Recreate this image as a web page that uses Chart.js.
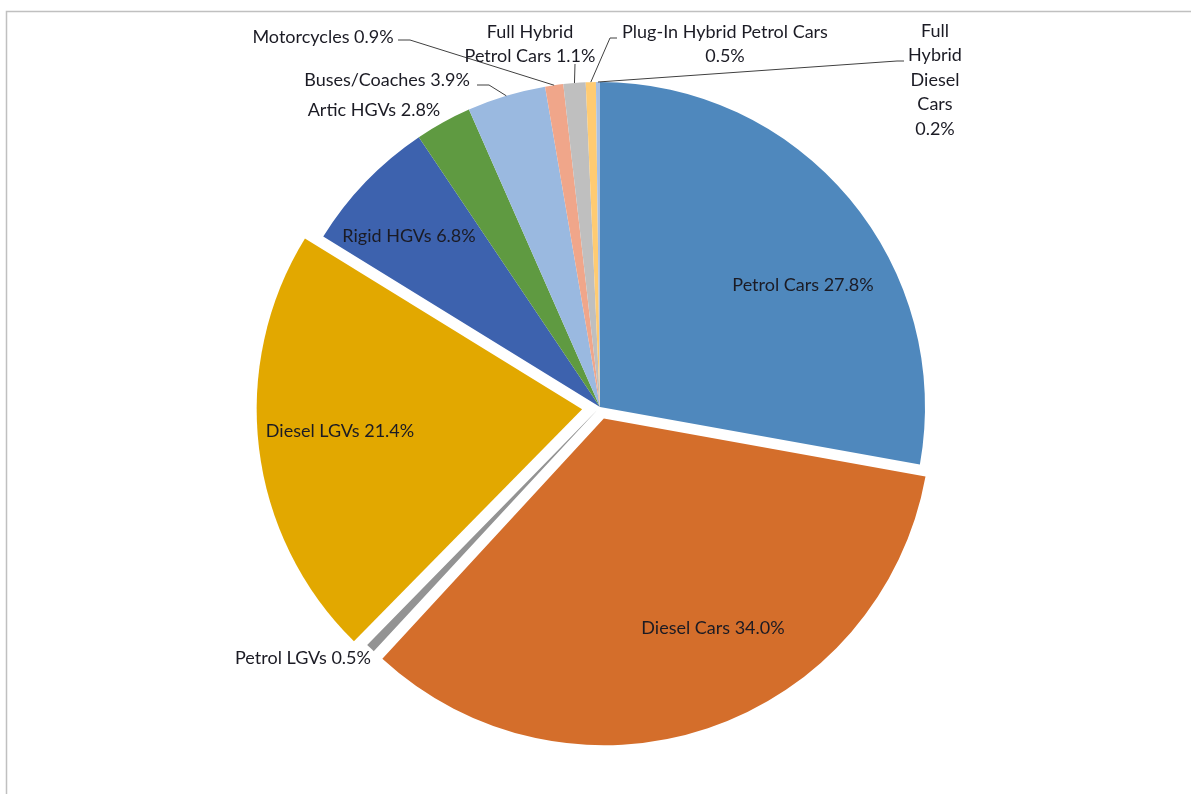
<!DOCTYPE html>
<html>
<head>
<meta charset="utf-8">
<script src="https://cdn.jsdelivr.net/npm/chart.js@4.4.1/dist/chart.umd.min.js"></script>
<style>
  body { margin: 0; background: #fff; }
  #wrap { width: 1191px; height: 794px; }
</style>
</head>
<body>
<div id="wrap"><canvas id="pieChart" width="1191" height="794"></canvas></div>
<script>
// data (share of total, %)
const categories = [
    'Petrol Cars', 'Diesel Cars', 'Petrol LGVs', 'Diesel LGVs', 'Rigid HGVs',
    'Artic HGVs', 'Buses/Coaches', 'Motorcycles', 'Full Hybrid Petrol Cars',
    'Plug-In Hybrid Petrol Cars', 'Full Hybrid Diesel Cars'
];
const shares = [27.8, 34.0, 0.5, 21.4, 6.8, 2.8, 3.9, 0.9, 1.1, 0.5, 0.2];
const sliceColors = [
    '#4f88bd', '#d46e2b', '#939393', '#e2a800', '#3d62ae',
    '#5f9a41', '#9ab9e0', '#f0a68a', '#bfbfbf', '#ffcb72', '#a8c0e4'
];
// exploded slices (chart.js v4 moves an arc by offset/4)
const sliceOffsets = [0, 48, 16, 72, 0, 0, 0, 0, 0, 0, 0];

// label text lines + where Excel put them (centre of text block), leader line path
const labelLines = [
    ['Petrol Cars 27.8%'],
    ['Diesel Cars 34.0%'],
    ['Petrol LGVs 0.5%'],
    ['Diesel LGVs 21.4%'],
    ['Rigid HGVs 6.8%'],
    ['Artic HGVs 2.8%'],
    ['Buses/Coaches 3.9%'],
    ['Motorcycles 0.9%'],
    ['Full Hybrid', 'Petrol Cars 1.1%'],
    ['Plug-In Hybrid Petrol Cars', '0.5%'],
    ['Full', 'Hybrid', 'Diesel', 'Cars', '0.2%']
];
const labelAt = [
    [803, 285], [713, 628], [303, 658], [340, 431], [409, 236],
    [374, 110], [387, 80], [323, 37], [530, 44], [725, 44], [935, 80]
];
// elbow points of leader lines (null = no line); line ends on slice edge
const leaderFrom = [
    null, null, null, null, null, null,
    [[477, 85], [489, 85]],
    [[398, 40], [410, 40]],
    [[575, 64]],
    [[617, 38], [610, 38]],
    [[904, 61], [897, 61]]
];

const framePlugin = {
    id: 'frame',
    beforeDraw(chart) {
        const c = chart.ctx;
        c.save();
        c.strokeStyle = '#c0c0c0';
        c.lineWidth = 1.5;
        c.beginPath();
        c.moveTo(6.5, chart.height);
        c.lineTo(6.5, 11.5);
        c.lineTo(chart.width, 11.5);
        c.stroke();
        c.restore();
    }
};

const labelPlugin = {
    id: 'sliceLabels',
    afterDatasetsDraw(chart) {
        const c = chart.ctx;
        const arcs = chart.getDatasetMeta(0).data;
        c.save();
        c.font = '18px Lato';
        c.fillStyle = '#1b1b24';
        c.textAlign = 'center';
        c.textBaseline = 'middle';
        c.strokeStyle = '#404040';
        c.lineWidth = 1;
        arcs.forEach((arc, i) => {
            const lines = labelLines[i];
            const [lx, ly] = labelAt[i];
            const lh = 24.5;
            lines.forEach((t, k) => {
                c.fillText(t, lx, ly + (k - (lines.length - 1) / 2) * lh);
            });
            if (leaderFrom[i]) {
                const p = arc.getProps(['x', 'y', 'startAngle', 'endAngle', 'outerRadius']);
                const mid = (p.startAngle + p.endAngle) / 2;
                const ex = p.x + Math.cos(mid) * p.outerRadius;
                const ey = p.y + Math.sin(mid) * p.outerRadius;
                c.beginPath();
                leaderFrom[i].forEach(([x, y], k) => k ? c.lineTo(x, y) : c.moveTo(x, y));
                c.lineTo(ex, ey);
                c.stroke();
            }
        });
        c.restore();
    }
};

const ctx1 = document.getElementById('pieChart');
const pieChart = new Chart(ctx1, {
    type: 'pie',
    data: {
        labels: categories,
        datasets: [{
            data: shares,
            backgroundColor: sliceColors,
            offset: sliceOffsets,
            hoverOffset: 0,
            borderWidth: 0,
            radius: 325
        }]
    },
    plugins: [framePlugin, labelPlugin],
    options: {
        responsive: false,
        devicePixelRatio: 1,
        animation: false,
        layout: { padding: { left: 9, top: 20, right: 0, bottom: 0 } },
        plugins: {
            legend: { display: false },
            tooltip: { enabled: false }
        }
    }
});
</script>
</body>
</html>
